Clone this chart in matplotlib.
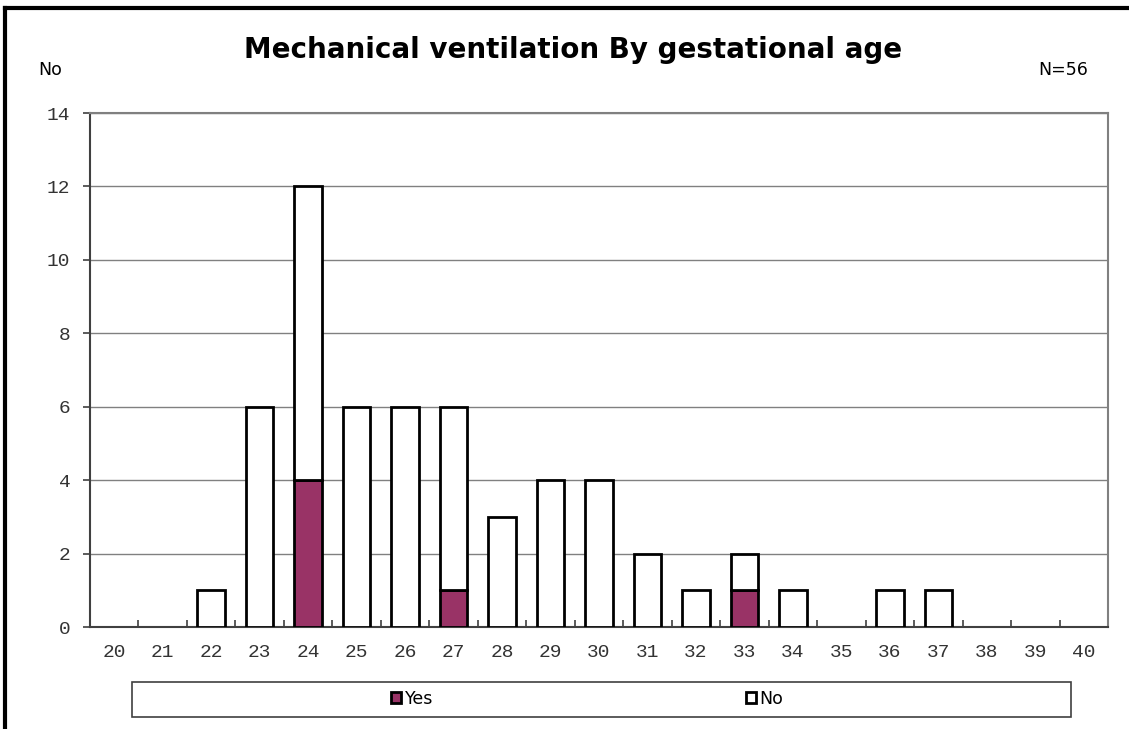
import matplotlib
matplotlib.use("Agg")
import matplotlib.pyplot as plt
from matplotlib.patches import Patch, Rectangle
from matplotlib.lines import Line2D
import numpy as np

# datos
weeks = [str(w) for w in range(20, 41)]
yes_vals = [0, 0, 0, 0, 4, 0, 0, 1, 0, 0, 0, 0, 0, 1, 0, 0, 0, 0, 0, 0, 0]
no_vals = [0, 0, 1, 6, 8, 6, 6, 5, 3, 4, 4, 2, 1, 1, 1, 0, 1, 1, 0, 0, 0]
y_ticks = [0, 2, 4, 6, 8, 10, 12, 14]

YES_COLOR = "#993366"
mono = "Liberation Mono"

fig = plt.figure(figsize=(11.29, 7.29), dpi=100)
ax = fig.add_axes([90 / 1129, 1 - 627 / 729, (1108 - 90) / 1129, (627 - 113) / 729])

x = np.arange(len(weeks))
yes = np.array(yes_vals)
no = np.array(no_vals)
# solo barras con valor > 0 (Excel no dibuja nada para 0)
m_yes = yes > 0
m_no = no > 0
ax.bar(x[m_yes], yes[m_yes], width=0.57, color=YES_COLOR, edgecolor="black",
       linewidth=2, zorder=3)
ax.bar(x[m_no], no[m_no], width=0.57, bottom=yes[m_no], color="white", edgecolor="black",
       linewidth=2, zorder=3)

ax.set_xlim(-0.5, len(weeks) - 0.5)
ax.set_ylim(0, 14)
ax.set_yticks(y_ticks)
ax.set_yticklabels([str(v) for v in y_ticks], fontfamily=mono, fontsize=14, color="#333333")
ax.set_xticks(x)
ax.set_xticklabels(weeks, fontfamily=mono, fontsize=14, color="#333333")
ax.set_xticks(np.arange(0.5, len(weeks) - 0.5), minor=True)
ax.tick_params(axis="x", which="major", length=0, pad=12)
ax.tick_params(axis="x", which="minor", direction="in", length=5, width=1.2, color="#404040")
ax.tick_params(axis="y", direction="out", length=5, width=1.2, color="#404040", pad=9)

ax.grid(axis="y", color="#808080", linewidth=1, zorder=0)
for s in ["top", "right"]:
    ax.spines[s].set_color("#808080")
    ax.spines[s].set_linewidth(1.5)
for s in ["left", "bottom"]:
    ax.spines[s].set_color("#404040")
    ax.spines[s].set_linewidth(1.5)

fig.text(573 / 1129, 1 - 50 / 729, "Mechanical ventilation By gestational age",
         ha="center", va="center", fontsize=20, fontweight="bold")
fig.text(38 / 1129, 1 - 70 / 729, "No", ha="left", va="center", fontsize=12.5)
fig.text(1088 / 1129, 1 - 70 / 729, "N=56", ha="right", va="center", fontsize=12.5)

# marco de la figura (arriba e izquierda)
fig.add_artist(Line2D([5 / 1129, 5 / 1129], [0, 1 - 8 / 729], transform=fig.transFigure,
                      color="black", linewidth=3))
fig.add_artist(Line2D([5 / 1129, 1], [1 - 8 / 729, 1 - 8 / 729], transform=fig.transFigure,
                      color="black", linewidth=3))

# caja de leyenda
fig.add_artist(Rectangle((132 / 1129, 1 - 717 / 729), (1071 - 132) / 1129, 35 / 729,
                         transform=fig.transFigure, facecolor="white", edgecolor="#404040",
                         linewidth=1.2))
handles = [Patch(facecolor=YES_COLOR, edgecolor="black", linewidth=2),
           Patch(facecolor="white", edgecolor="black", linewidth=2)]
fig.legend(handles, ["Yes", "No"], ncol=2, loc="center", bbox_to_anchor=(587 / 1129, 1 - 699 / 729),
           frameon=False, fontsize=12.5, handlelength=0.6, handleheight=0.6, handletextpad=0.2,
           columnspacing=18)

fig.savefig("out.png", dpi=100)
